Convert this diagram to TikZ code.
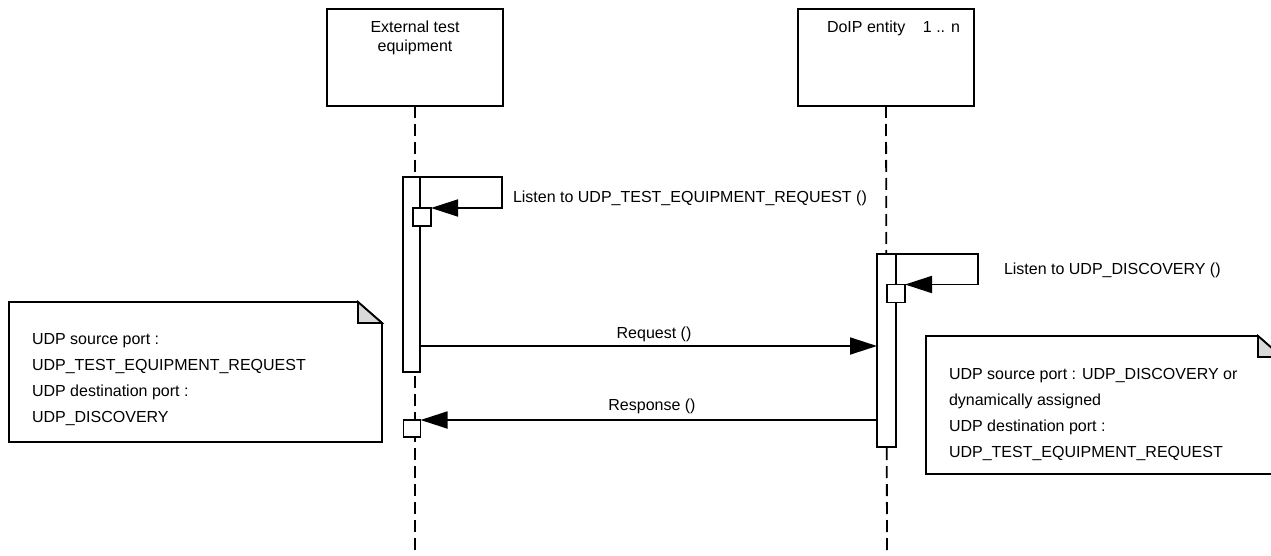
\documentclass[tikz,border=0pt]{standalone}
\usepackage{fontspec}
\setmainfont{Liberation Sans}
\usetikzlibrary{arrows.meta,positioning}
\tikzset{
  txt/.style={inner sep=0pt, outer sep=0pt, font=\fontsize{16}{18.4}\selectfont},
  notetxt/.style={txt, align=left, anchor=north west, font=\fontsize{16}{26}\selectfont},
  headbox/.style={draw, line width=1.8pt, rectangle, minimum width=176pt, minimum height=97pt, inner sep=0pt, outer sep=0pt},
  actbar/.style={draw, fill=white, line width=1.8pt, rectangle, minimum width=17pt, inner sep=0pt, outer sep=0pt},
  sqbox/.style={draw, fill=white, line width=1.8pt, rectangle, minimum size=18pt, inner sep=0pt, outer sep=0pt},
  lifeline/.style={line width=1.8pt, dash pattern=on 12pt off 6pt},
  msg/.style={line width=1.8pt, -{Triangle[length=27pt, width=17pt]}},
  note/.style={draw, fill=white, line width=1.8pt, line join=miter},
  fold/.style={draw, fill=black!15, line width=1.8pt}
}
\begin{document}
\begin{tikzpicture}[x=1pt, y=-1pt]
    \clip (0,0) rectangle (1271,556);
    \fill[white] (0,0) rectangle (1271,556);
    \node [headbox] (ete) at (415,57.5) {};
    \node [headbox] (doip) at (886,57.5) {};
    \node [txt, anchor=north, align=center] (etename) at (415,21.4) {External test\\equipment};
    \node [txt, anchor=base west] (doipname) at (827,33) {DoIP entity};
    \node [txt, anchor=base east] (doipmult) at (960,33) {1 .. n};
    \coordinate (eteend) at (415,556);
    \coordinate (doipend) at (887,556);
    \draw [lifeline] (ete.south) -- (eteend);
    \draw [lifeline] (doip.south) -- (doipend);
    \node [actbar, minimum height=195pt] (etebar) at (411.5,274.5) {};
    \node [actbar, minimum width=19pt, minimum height=193pt] (doipbar) at (886.5,350.5) {};
    \node [sqbox] (sqa) at (422,217) {};
    \node [sqbox] (sqb) at (896,293.5) {};
    \node [sqbox, minimum size=17pt] (sqc) at (412,428.5) {};
    \draw [msg] (etebar.north east) -- ++(82,0) |- (sqa.north east);
    \draw [msg] (doipbar.north east) -- ++(82,0) |- (sqb.north east);
    \coordinate (reqy) at (0,346);
    \draw [msg] (etebar.east |- reqy) -- (doipbar.west |- reqy);
    \draw [msg] (doipbar.west |- sqc.north) -- (sqc.north east);
    \node [txt, anchor=base west] (listena) at (513,203) {Listen to UDP\_TEST\_EQUIPMENT\_REQUEST ()};
    \node [txt, anchor=base west] (listenb) at (1004,274) {Listen to UDP\_DISCOVERY ()};
    \node [txt, anchor=base] (reqlbl) at (654,338) {Request ()};
    \node [txt, anchor=base] (resplbl) at (652,410) {Response ()};
    \draw [note] (9,302) -- (358,302) -- (382,323) -- (382,442) -- (9,442) -- cycle;
    \draw [fold] (358,302) -- (358,323) -- (382,323) -- cycle;
    \node [notetxt] (notea) at (32,333.4) {UDP source port :\\UDP\_TEST\_EQUIPMENT\_REQUEST\\UDP destination port :\\UDP\_DISCOVERY};
    \draw [note] (926,336) -- (1258,336) -- (1282,357) -- (1282,474) -- (926,474) -- cycle;
    \draw [fold] (1258,336) -- (1258,357) -- (1282,357) -- cycle;
    \node [notetxt] (noteb) at (949,368.4) {UDP source port : UDP\_DISCOVERY or\\dynamically assigned\\UDP destination port :\\UDP\_TEST\_EQUIPMENT\_REQUEST};
\end{tikzpicture}
\end{document}
